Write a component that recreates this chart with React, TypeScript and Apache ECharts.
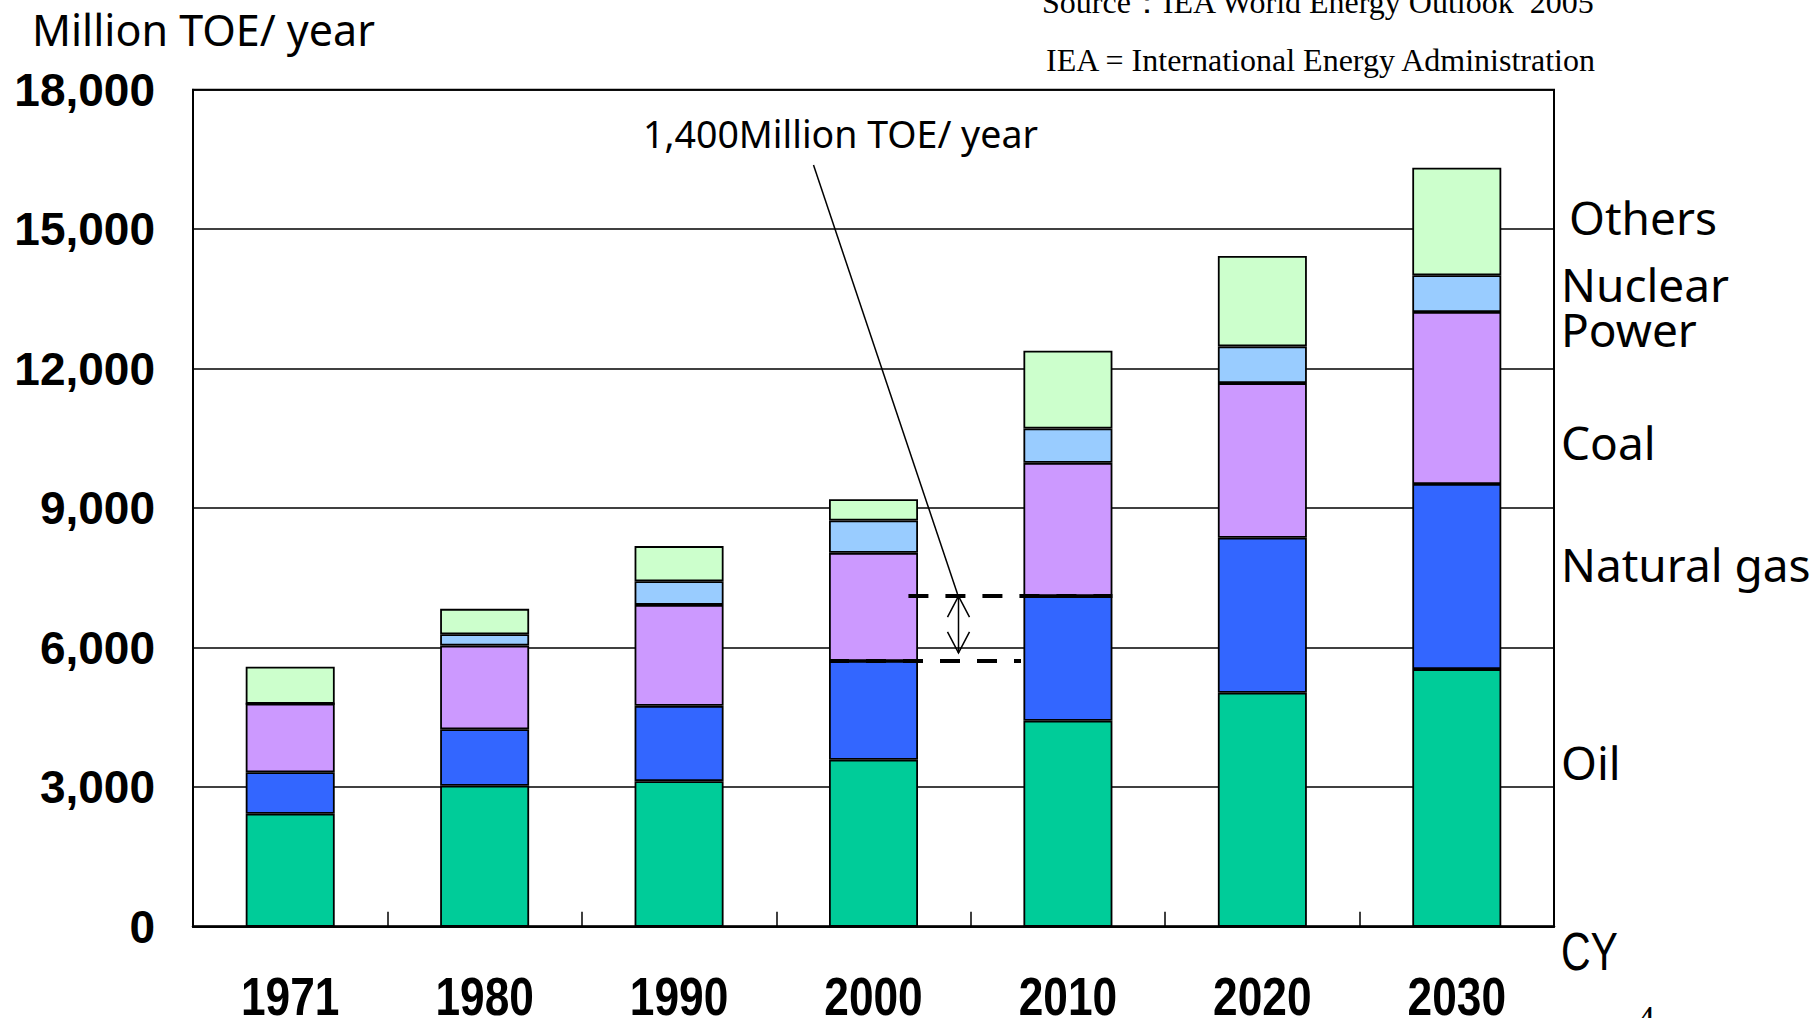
import React, { useEffect, useRef } from "react";
import * as echarts from "echarts";

// ---- data (Million TOE / year) ----
const years = ["1971", "1980", "1990", "2000", "2010", "2020", "2030"];
const oil = [2430, 3030, 3130, 3590, 4430, 5030, 5540];
const naturalGas = [890, 1215, 1620, 2125, 2680, 3335, 3980];
const coal = [1475, 1800, 2170, 2325, 2865, 3325, 3700];
const nuclearPower = [0, 245, 510, 695, 740, 790, 790];
const others = [795, 545, 755, 460, 1670, 1945, 2310];

const yMin = 0;
const yMax = 18000;
const yInterval = 3000;

const seriesNames = ["Oil", "Natural gas", "Coal", "Nuclear Power", "Others"];
const seriesColors = ["#00CC99", "#3366FF", "#CC99FF", "#99CCFF", "#CCFFCC"];

const unitLabel = "Million TOE/ year";
const gapLabel = "1,400Million TOE/ year";
const sourceLine1 = "Source：IEA World Energy Outlook  2005";
const sourceLine2 = "IEA = International Energy Administration";
const xAxisName = "CY";
const pageNumber = "4";

// the gap annotation compares oil+gas of 2000 and 2010
const gapFromIndex = 3;
const gapToIndex = 4;

const SANS = "'Noto Sans', 'DejaVu Sans', sans-serif";
const ARIAL = "'Liberation Sans', Arial, sans-serif";
const SERIF = "'Liberation Serif', 'Times New Roman', serif";

function txt(
  text: string,
  x: number,
  y: number,
  size: number,
  family: string,
  weight = "normal",
  align = "left",
  scaleX = 1,
  lineHeight?: number
) {
  return {
    type: "text",
    silent: true,
    z: 100,
    x,
    y,
    scaleX,
    style: {
      text,
      x: 0,
      y: 0,
      fill: "#000",
      fontSize: size,
      fontFamily: family,
      fontWeight: weight,
      lineHeight: lineHeight ?? size,
      align,
      verticalAlign: "middle",
      textAlign: align,
      textVerticalAlign: "middle",
    },
  };
}

export default function App() {
  const ref = useRef<HTMLDivElement>(null);

  useEffect(() => {
    if (!ref.current) return;
    const chart = echarts.init(ref.current, null, { renderer: "svg" });

    const stackData = [oil, naturalGas, coal, nuclearPower, others];
    const gapLower = oil[gapFromIndex] + naturalGas[gapFromIndex];
    const gapUpper = oil[gapToIndex] + naturalGas[gapToIndex];

    const barSeries = stackData.map((d, i) => ({
      name: seriesNames[i],
      type: "bar",
      stack: "total",
      barWidth: 89,
      data: d,
      itemStyle: { color: seriesColors[i], borderColor: "#000", borderWidth: 1.8 },
      emphasis: { disabled: true },
      silent: true,
      z: 2,
    }));

    const annotation = {
      type: "custom",
      silent: true,
      z: 10,
      clip: false,
      data: [[gapFromIndex, gapLower]],
      renderItem: (_params: any, api: any) => {
        const [xa, yLo] = api.coord([gapFromIndex, gapLower]);
        const [xb, yUp] = api.coord([gapToIndex, gapUpper]);
        const half = 44.5;
        const dash = { stroke: "#000", lineWidth: 4, lineDash: [20, 17] };
        const thin = { stroke: "#000", lineWidth: 1.5, fill: "none" };
        const ax = xa + 85;
        const arm = 21;
        const spread = 11;
        const yLoTip = yLo - 8;
        return {
          type: "group",
          children: [
            { type: "line", shape: { x1: xa - half, y1: yLo, x2: xa - half + 192, y2: yLo }, style: dash },
            { type: "line", shape: { x1: xb + half - 204, y1: yUp, x2: xb + half, y2: yUp }, style: dash },
            { type: "line", shape: { x1: ax, y1: yUp, x2: ax, y2: yLoTip }, style: thin },
            {
              type: "polyline",
              shape: { points: [[ax - spread, yUp + arm], [ax, yUp], [ax + spread, yUp + arm]] },
              style: thin,
            },
            {
              type: "polyline",
              shape: { points: [[ax - spread, yLoTip - arm], [ax, yLoTip], [ax + spread, yLoTip - arm]] },
              style: thin,
            },
            { type: "line", shape: { x1: xa - 60, y1: 165, x2: ax - 1, y2: yUp - 2 }, style: thin },
          ],
        };
      },
    };

    const staticGraphics = [
      txt(unitLabel, 32, 29, 43, SANS),
      txt(gapLabel, 643, 133, 37.5, SANS),
      txt(sourceLine1, 1042, 2, 32, SERIF),
      txt(sourceLine2, 1046, 60, 32, SERIF),
      txt("Others", 1569, 217, 46, SANS, "normal", "left", 1, 40),
      txt("Nuclear", 1561, 284, 46, SANS, "normal", "left", 1, 40),
      txt("Power", 1561, 329, 46, SANS, "normal", "left", 1, 40),
      txt("Coal", 1561, 442, 46, SANS, "normal", "left", 1, 40),
      txt("Natural gas", 1561, 564, 46, SANS, "normal", "left", 1, 40),
      txt("Oil", 1561, 762, 46, SANS, "normal", "left", 1, 40),
      txt(xAxisName, 1561, 951, 54, ARIAL, "normal", "left", 0.76, 44),
      txt(pageNumber, 1637, 1019, 36, SERIF),
    ];

    chart.setOption({
      animation: false,
      backgroundColor: "#fff",
      grid: {
        left: 193,
        right: 262,
        top: 89.7,
        bottom: 91.3,
        show: true,
        borderColor: "#000",
        borderWidth: 2,
        backgroundColor: "transparent",
      },
      xAxis: {
        type: "category",
        data: years,
        boundaryGap: true,
        axisLine: { show: true, lineStyle: { color: "#000", width: 2.5 } },
        axisTick: { show: true, inside: true, length: 15, interval: 0, lineStyle: { color: "#000", width: 1.5 } },
        axisLabel: { show: false },
        splitLine: { show: false },
      },
      yAxis: {
        type: "value",
        min: yMin,
        max: yMax,
        interval: yInterval,
        axisLine: { show: true, lineStyle: { color: "#000", width: 2 } },
        axisTick: { show: false },
        axisLabel: {
          color: "#000",
          fontFamily: ARIAL,
          fontWeight: "bold",
          fontSize: 46,
          margin: 38,
          formatter: (v: number) => v.toLocaleString("en-US"),
        },
        splitLine: { show: true, lineStyle: { color: "#000", width: 1.5 } },
      },
      series: [...barSeries, annotation],
      graphic: staticGraphics,
    });

    // category labels: tall, narrow bold digits placed at the axis' own category positions
    const yearLabels = years.map((y, i) => {
      const px = chart.convertToPixel({ xAxisIndex: 0 }, i) as number;
      return txt(y, px, 996, 54, ARIAL, "bold", "center", 0.82, 40);
    });
    chart.setOption({ graphic: [...staticGraphics, ...yearLabels] });

    return () => chart.dispose();
  }, []);

  return (
    <div
      ref={ref}
      style={{ position: "fixed", left: 0, top: 0, width: 1816, height: 1018, background: "#fff" }}
    />
  );
}
